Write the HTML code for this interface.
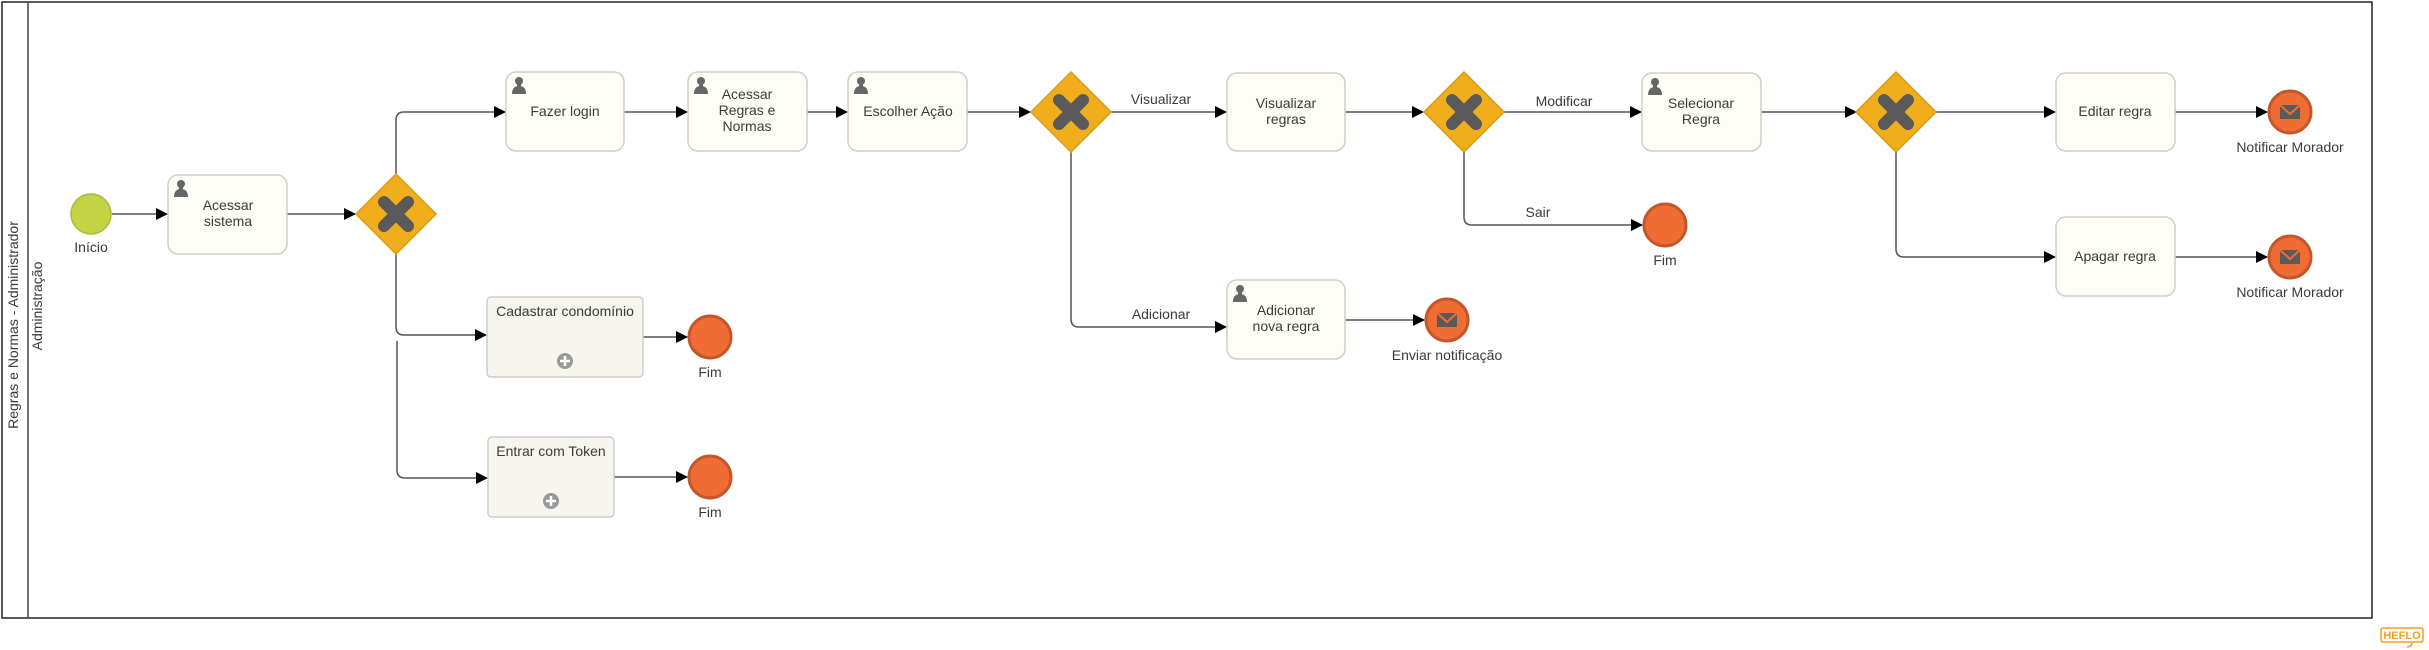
<!DOCTYPE html>
<html><head><meta charset="utf-8"><style>
html,body{margin:0;padding:0;background:#fff;}
svg{display:block;}
text{font-family:"Liberation Sans",sans-serif;fill:#3a3a3a;}
</style></head><body>
<svg width="2429" height="650" viewBox="0 0 2429 650" xmlns="http://www.w3.org/2000/svg">
<defs>
<marker id="a" markerWidth="12" markerHeight="12" refX="11" refY="6" orient="auto" markerUnits="userSpaceOnUse"><path d="M0,0 L12,6 L0,12 Z" fill="#000"/></marker>
<g id="person"><circle cx="0" cy="-4" r="4" fill="#666"/><path d="M-7,9 Q-7,1 0,1 Q7,1 7,9 Z" fill="#666"/><rect x="-2" y="-1" width="4" height="4" fill="#666"/></g>
<g id="gw"><polygon points="0,-40 40,0 0,40 -40,0" fill="#f0ae1c" stroke="#dc9a10" stroke-width="1.5"/><path d="M-12,-12 L12,12 M12,-12 L-12,12" stroke="#5a5a5a" stroke-width="12" stroke-linecap="round"/></g>
<g id="env"><rect x="-10" y="-7" width="20" height="14" fill="#5a5a5a"/><path d="M-10,-7 L0,2 L10,-7" stroke="#ef6c35" stroke-width="2" fill="none"/></g>
</defs>
<!-- pool -->
<rect x="2" y="2" width="2370" height="616" fill="none" stroke="#222" stroke-width="1.5"/>
<line x1="28" y1="2" x2="28" y2="618" stroke="#444" stroke-width="1.5"/>
<text transform="translate(18,325) rotate(-90)" text-anchor="middle" font-size="14">Regras e Normas - Administrador</text>
<text transform="translate(42,306) rotate(-90)" text-anchor="middle" font-size="14">Administração</text>

<g stroke="#555" stroke-width="1.5" fill="none">
<path d="M112,214 H167" marker-end="url(#a)"/>
<path d="M287,214 H355" marker-end="url(#a)"/>
<path d="M396,174 V120 Q396,112 404,112 H505" marker-end="url(#a)"/>
<path d="M396,254 V327 Q396,335 404,335 H486" marker-end="url(#a)"/>
<path d="M397,341 V470 Q397,478 405,478 H487" marker-end="url(#a)"/>
<path d="M643,337 H687" marker-end="url(#a)"/>
<path d="M614,477 H687" marker-end="url(#a)"/>
<path d="M624,112 H687" marker-end="url(#a)"/>
<path d="M807,112 H847" marker-end="url(#a)"/>
<path d="M967,112 H1030" marker-end="url(#a)"/>
<path d="M1111,112 H1226" marker-end="url(#a)"/>
<path d="M1071,152 V319 Q1071,327 1079,327 H1226" marker-end="url(#a)"/>
<path d="M1345,320 H1424" marker-end="url(#a)"/>
<path d="M1345,112 H1423" marker-end="url(#a)"/>
<path d="M1504,112 H1641" marker-end="url(#a)"/>
<path d="M1464,152 V217 Q1464,225 1472,225 H1642" marker-end="url(#a)"/>
<path d="M1761,112 H1856" marker-end="url(#a)"/>
<path d="M1936,112 H2055" marker-end="url(#a)"/>
<path d="M1896,152 V249 Q1896,257 1904,257 H2055" marker-end="url(#a)"/>
<path d="M2175,112 H2267" marker-end="url(#a)"/>
<path d="M2175,257 H2267" marker-end="url(#a)"/>
</g>

<!-- start -->
<circle cx="91" cy="214" r="20" fill="#c2d443" stroke="#a9bb38" stroke-width="1.5"/>
<text x="91" y="252" text-anchor="middle" font-size="14">Início</text>

<!-- tasks -->
<g stroke="#cfcfc4" stroke-width="1.5" fill="#fefef6">
<rect x="168" y="175" width="119" height="79" rx="10"/>
<rect x="506" y="72" width="118" height="79" rx="10"/>
<rect x="688" y="72" width="119" height="79" rx="10"/>
<rect x="848" y="72" width="119" height="79" rx="10"/>
<rect x="1227" y="73" width="118" height="78" rx="10"/>
<rect x="1227" y="280" width="118" height="79" rx="10"/>
<rect x="1642" y="73" width="119" height="78" rx="10"/>
<rect x="2056" y="73" width="119" height="78" rx="10"/>
<rect x="2056" y="217" width="119" height="79" rx="10"/>
</g>
<g fill="#f6f5ee" stroke="#cfcfc4" stroke-width="1.5">
<rect x="487" y="297" width="156" height="80" rx="4"/>
<rect x="488" y="437" width="126" height="80" rx="4"/>
</g>
<circle cx="565" cy="361" r="8" fill="#999"/><path d="M560,361 H570 M565,356 V366" stroke="#fff" stroke-width="2.5"/>
<circle cx="551" cy="501" r="8" fill="#999"/><path d="M546,501 H556 M551,496 V506" stroke="#fff" stroke-width="2.5"/>

<use href="#person" x="181" y="188"/>
<use href="#person" x="519" y="85"/>
<use href="#person" x="701" y="85"/>
<use href="#person" x="861" y="85"/>
<use href="#person" x="1240" y="293"/>
<use href="#person" x="1655" y="86"/>

<g font-size="14" text-anchor="middle">
<text x="228" y="210">Acessar</text><text x="228" y="226">sistema</text>
<text x="565" y="116">Fazer login</text>
<text x="747" y="99">Acessar</text><text x="747" y="115">Regras e</text><text x="747" y="131">Normas</text>
<text x="908" y="116">Escolher Ação</text>
<text x="1286" y="108">Visualizar</text><text x="1286" y="124">regras</text>
<text x="1286" y="315">Adicionar</text><text x="1286" y="331">nova regra</text>
<text x="1701" y="108">Selecionar</text><text x="1701" y="124">Regra</text>
<text x="2115" y="116">Editar regra</text>
<text x="2115" y="261">Apagar regra</text>
<text x="565" y="316">Cadastrar condomínio</text>
<text x="551" y="456">Entrar com Token</text>
</g>

<!-- gateways -->
<use href="#gw" x="396" y="214"/>
<use href="#gw" x="1071" y="112"/>
<use href="#gw" x="1464" y="112"/>
<use href="#gw" x="1896" y="112"/>

<!-- flow labels -->
<g font-size="14" text-anchor="middle" fill="#555">
<text x="1161" y="104">Visualizar</text>
<text x="1161" y="319">Adicionar</text>
<text x="1564" y="106">Modificar</text>
<text x="1538" y="217">Sair</text>
</g>

<!-- end events -->
<g fill="#ef6c35" stroke="#c4572a" stroke-width="3">
<circle cx="710" cy="337" r="21"/>
<circle cx="710" cy="477" r="21"/>
<circle cx="1665" cy="225" r="21"/>
<circle cx="1447" cy="320" r="21"/>
<circle cx="2290" cy="112" r="21"/>
<circle cx="2290" cy="257" r="21"/>
</g>
<use href="#env" x="1447" y="320"/>
<use href="#env" x="2290" y="112"/>
<use href="#env" x="2290" y="257"/>
<g font-size="14" text-anchor="middle">
<text x="710" y="377">Fim</text>
<text x="710" y="517">Fim</text>
<text x="1665" y="265">Fim</text>
<text x="1447" y="360">Enviar notificação</text>
<text x="2290" y="152">Notificar Morador</text>
<text x="2290" y="297">Notificar Morador</text>
</g>

<!-- logo -->
<rect x="2381" y="628" width="42" height="14" rx="2" fill="none" stroke="#f0a020" stroke-width="1.5"/>
<text x="2402" y="639" text-anchor="middle" font-size="11" font-weight="bold" style="fill:#f0a020">HEFLO</text>
<path d="M2412,642 q0,5 -5,5" stroke="#f0a020" stroke-width="1.5" fill="none"/>
</svg>
</body></html>
